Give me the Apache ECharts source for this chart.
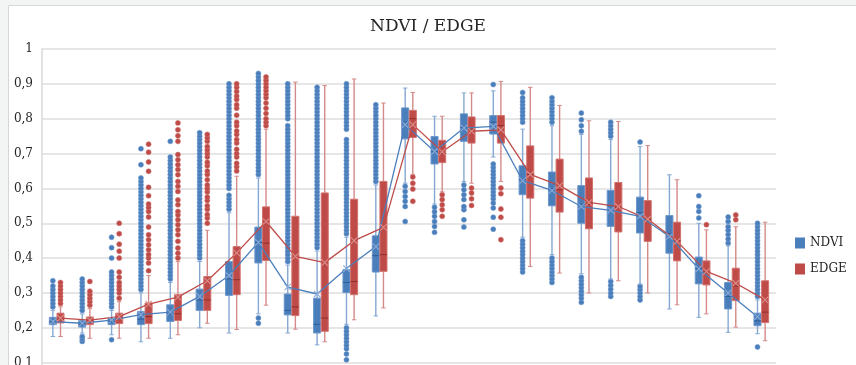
<!DOCTYPE html>
<html>
<head>
<meta charset="utf-8">
<script src="https://cdn.jsdelivr.net/npm/echarts@6/dist/echarts.min.js"></script>
<style>
  html, body { margin: 0; padding: 0; background: #f3f4f4; }
  #chart { width: 856px; height: 365px; }
</style>
</head>
<body>
<div id="chart"></div>
<script>
// Period labels (1..25); the axis labels sit below the visible area
const categories = ['1','2','3','4','5','6','7','8','9','10','11','12','13','14','15','16','17','18','19','20','21','22','23','24','25'];

// NDVI box statistics: [lower whisker, Q1, median, Q3, upper whisker]
const ndviBoxes = [
  [0.175, 0.209, 0.217, 0.230, 0.25],
  [0.185, 0.202, 0.210, 0.221, 0.24],
  [0.18, 0.209, 0.218, 0.228, 0.25],
  [0.16, 0.209, 0.225, 0.247, 0.30],
  [0.17, 0.218, 0.24, 0.266, 0.33],
  [0.20, 0.25, 0.28, 0.311, 0.39],
  [0.185, 0.293, 0.34, 0.39, 0.53],
  [0.24, 0.386, 0.445, 0.489, 0.63],
  [0.185, 0.237, 0.25, 0.297, 0.38],
  [0.151, 0.185, 0.21, 0.285, 0.42],
  [0.21, 0.301, 0.33, 0.367, 0.46],
  [0.234, 0.36, 0.407, 0.464, 0.61],
  [0.615, 0.742, 0.79, 0.831, 0.888],
  [0.555, 0.67, 0.705, 0.749, 0.807],
  [0.62, 0.735, 0.775, 0.814, 0.874],
  [0.69, 0.756, 0.79, 0.809, 0.88],
  [0.46, 0.582, 0.625, 0.665, 0.77],
  [0.41, 0.55, 0.60, 0.647, 0.78],
  [0.355, 0.50, 0.555, 0.608, 0.755],
  [0.34, 0.491, 0.55, 0.594, 0.74],
  [0.325, 0.472, 0.53, 0.575, 0.72],
  [0.254, 0.414, 0.47, 0.522, 0.639],
  [0.23, 0.326, 0.37, 0.403, 0.50],
  [0.187, 0.254, 0.29, 0.33, 0.435],
  [0.183, 0.206, 0.22, 0.242, 0.28]
];

// EDGE box statistics: [lower whisker, Q1, median, Q3, upper whisker]
const edgeBoxes = [
  [0.175, 0.214, 0.225, 0.242, 0.26],
  [0.17, 0.209, 0.22, 0.231, 0.255],
  [0.17, 0.212, 0.228, 0.242, 0.275],
  [0.17, 0.212, 0.232, 0.271, 0.35],
  [0.18, 0.221, 0.24, 0.295, 0.39],
  [0.213, 0.25, 0.28, 0.347, 0.48],
  [0.195, 0.295, 0.338, 0.433, 0.635],
  [0.265, 0.393, 0.443, 0.547, 0.77],
  [0.196, 0.235, 0.26, 0.52, 0.905],
  [0.16, 0.19, 0.228, 0.587, 0.895],
  [0.223, 0.295, 0.333, 0.569, 0.914],
  [0.257, 0.362, 0.41, 0.62, 0.845],
  [0.64, 0.746, 0.80, 0.824, 0.875],
  [0.59, 0.674, 0.70, 0.738, 0.807],
  [0.615, 0.73, 0.77, 0.805, 0.874],
  [0.62, 0.73, 0.78, 0.809, 0.907],
  [0.376, 0.572, 0.64, 0.722, 0.89],
  [0.357, 0.532, 0.596, 0.684, 0.838],
  [0.30, 0.484, 0.555, 0.63, 0.794],
  [0.335, 0.475, 0.545, 0.617, 0.792],
  [0.30, 0.448, 0.51, 0.565, 0.723],
  [0.266, 0.392, 0.45, 0.503, 0.625],
  [0.24, 0.323, 0.36, 0.392, 0.481],
  [0.202, 0.278, 0.32, 0.371, 0.49],
  [0.163, 0.215, 0.245, 0.335, 0.503]
];

// Mean values (the X markers joined by lines)
const ndviMeans = [0.218, 0.213, 0.222, 0.238, 0.245, 0.29, 0.35, 0.445, 0.317, 0.297, 0.37, 0.433,
  0.783, 0.706, 0.773, 0.778, 0.622, 0.594, 0.548, 0.537, 0.52, 0.462, 0.369, 0.30, 0.232];
const edgeMeans = [0.228, 0.222, 0.232, 0.268, 0.288, 0.335, 0.415, 0.505, 0.405, 0.387, 0.45, 0.488,
  0.783, 0.705, 0.764, 0.768, 0.64, 0.608, 0.56, 0.548, 0.512, 0.448, 0.362, 0.328, 0.28];

// Outlying observations per period
const ndviOutliers = [
  [0.26, 0.27, 0.28, 0.29, 0.30, 0.31, 0.32, 0.335],
  [0.161, 0.168, 0.175, 0.25, 0.26, 0.27, 0.28, 0.29, 0.30, 0.31, 0.32, 0.33, 0.34],
  [0.166, 0.26, 0.27, 0.28, 0.29, 0.30, 0.31, 0.32, 0.33, 0.34, 0.35, 0.36, 0.40, 0.43, 0.46],
  [0.31, 0.32, 0.33, 0.34, 0.35, 0.36, 0.37, 0.38, 0.39, 0.40, 0.41, 0.42, 0.43, 0.44, 0.45, 0.46, 0.47,
   0.48, 0.49, 0.50, 0.51, 0.52, 0.53, 0.54, 0.55, 0.56, 0.57, 0.58, 0.59, 0.60, 0.61, 0.62, 0.63, 0.668, 0.714],
  [0.34, 0.35, 0.36, 0.37, 0.38, 0.39, 0.40, 0.41, 0.42, 0.43, 0.44, 0.45, 0.46, 0.47, 0.48, 0.49, 0.50,
   0.51, 0.52, 0.53, 0.54, 0.55, 0.56, 0.57, 0.58, 0.59, 0.60, 0.61, 0.62, 0.63, 0.64, 0.65, 0.66, 0.67,
   0.68, 0.69, 0.735],
  [0.40, 0.41, 0.42, 0.43, 0.44, 0.45, 0.46, 0.47, 0.48, 0.49, 0.50, 0.51, 0.52, 0.53, 0.54, 0.55, 0.56,
   0.57, 0.58, 0.59, 0.60, 0.61, 0.62, 0.63, 0.64, 0.65, 0.66, 0.67, 0.68, 0.69, 0.70, 0.71, 0.72, 0.73,
   0.74, 0.75, 0.76],
  [0.54, 0.55, 0.56, 0.57, 0.58, 0.60, 0.61, 0.62, 0.63, 0.64, 0.65, 0.66, 0.67, 0.68, 0.69, 0.70, 0.71,
   0.72, 0.73, 0.74, 0.75, 0.76, 0.77, 0.78, 0.79, 0.80, 0.81, 0.82, 0.83, 0.84, 0.85, 0.86, 0.87, 0.88,
   0.89, 0.90],
  [0.213, 0.228, 0.64, 0.65, 0.66, 0.67, 0.68, 0.69, 0.70, 0.71, 0.72, 0.73, 0.74, 0.75, 0.76, 0.77, 0.78,
   0.79, 0.80, 0.81, 0.82, 0.83, 0.84, 0.85, 0.86, 0.87, 0.88, 0.89, 0.90, 0.91, 0.92, 0.93],
  [0.39, 0.40, 0.41, 0.42, 0.43, 0.44, 0.45, 0.46, 0.47, 0.48, 0.49, 0.50, 0.51, 0.52, 0.53, 0.54, 0.55,
   0.56, 0.57, 0.58, 0.59, 0.60, 0.61, 0.62, 0.63, 0.64, 0.65, 0.66, 0.67, 0.68, 0.69, 0.70, 0.71, 0.72,
   0.73, 0.74, 0.75, 0.76, 0.77, 0.78, 0.80, 0.81, 0.82, 0.83, 0.84, 0.85, 0.86, 0.87, 0.88, 0.89, 0.90],
  [0.43, 0.44, 0.45, 0.46, 0.47, 0.48, 0.49, 0.50, 0.51, 0.52, 0.53, 0.54, 0.55, 0.56, 0.57, 0.58, 0.59,
   0.60, 0.61, 0.62, 0.63, 0.64, 0.65, 0.66, 0.67, 0.68, 0.69, 0.70, 0.71, 0.72, 0.73, 0.74, 0.75, 0.76,
   0.77, 0.78, 0.79, 0.80, 0.81, 0.82, 0.83, 0.84, 0.85, 0.86, 0.87, 0.88, 0.89],
  [0.108, 0.125, 0.14, 0.15, 0.16, 0.17, 0.18, 0.19, 0.20,
   0.47, 0.48, 0.49, 0.50, 0.51, 0.52, 0.53, 0.54, 0.55, 0.56, 0.57, 0.58, 0.59, 0.60, 0.61, 0.62, 0.63,
   0.64, 0.65, 0.66, 0.67, 0.68, 0.69, 0.70, 0.71, 0.72, 0.73, 0.74, 0.77, 0.78, 0.79, 0.80, 0.81, 0.82,
   0.83, 0.84, 0.85, 0.86, 0.87, 0.88, 0.89, 0.90],
  [0.62, 0.63, 0.64, 0.65, 0.66, 0.67, 0.68, 0.69, 0.70, 0.71, 0.72, 0.73, 0.74, 0.75, 0.76, 0.77, 0.78,
   0.79, 0.80, 0.81, 0.82, 0.83, 0.84],
  [0.505, 0.548, 0.563, 0.577, 0.591, 0.606],
  [0.474, 0.491, 0.505, 0.52, 0.533, 0.546],
  [0.489, 0.51, 0.539, 0.548, 0.568, 0.582, 0.596, 0.61],
  [0.483, 0.517, 0.544, 0.558, 0.57, 0.58, 0.59, 0.60, 0.61, 0.62, 0.63, 0.64, 0.65, 0.66, 0.67, 0.898],
  [0.36, 0.37, 0.38, 0.39, 0.40, 0.41, 0.42, 0.43, 0.44, 0.45, 0.79, 0.80, 0.81, 0.82, 0.83, 0.84, 0.85,
   0.86, 0.875],
  [0.33, 0.34, 0.35, 0.36, 0.37, 0.38, 0.39, 0.40, 0.79, 0.80, 0.81, 0.82, 0.83, 0.84, 0.85, 0.86],
  [0.273, 0.285, 0.295, 0.305, 0.315, 0.325, 0.335, 0.345, 0.764, 0.78, 0.797, 0.816],
  [0.29, 0.30, 0.311, 0.322, 0.333, 0.75, 0.76, 0.77, 0.78, 0.79],
  [0.28, 0.29, 0.30, 0.31, 0.319, 0.733],
  [],
  [0.515, 0.534, 0.548, 0.579],
  [0.443, 0.455, 0.468, 0.48, 0.49, 0.505, 0.518],
  [0.145, 0.29, 0.30, 0.31, 0.32, 0.33, 0.34, 0.35, 0.36, 0.37, 0.38, 0.39, 0.40, 0.41, 0.42, 0.43, 0.44,
   0.45, 0.46, 0.47, 0.48, 0.49, 0.50]
];

const edgeOutliers = [
  [0.27, 0.28, 0.29, 0.30, 0.31, 0.32, 0.33],
  [0.265, 0.275, 0.285, 0.295, 0.305, 0.333],
  [0.285, 0.30, 0.31, 0.32, 0.33, 0.345, 0.36, 0.40, 0.42, 0.44, 0.47, 0.50],
  [0.364, 0.386, 0.400, 0.410, 0.424, 0.438, 0.453, 0.467, 0.489, 0.518, 0.534, 0.545, 0.555, 0.579,
   0.603, 0.649, 0.676, 0.704, 0.727],
  [0.400, 0.414, 0.429, 0.448, 0.467, 0.481, 0.496, 0.510, 0.524, 0.534, 0.553, 0.567, 0.591, 0.606,
   0.620, 0.639, 0.654, 0.668, 0.682, 0.697, 0.735, 0.751, 0.768, 0.788],
  [0.50, 0.515, 0.525, 0.54, 0.55, 0.565, 0.575, 0.59, 0.60, 0.61, 0.625, 0.64, 0.65, 0.665, 0.675,
   0.69, 0.70, 0.71, 0.72, 0.735, 0.745, 0.755],
  [0.65, 0.662, 0.672, 0.69, 0.70, 0.712, 0.73, 0.74, 0.755, 0.765, 0.78, 0.79, 0.81, 0.83, 0.84, 0.855,
   0.865, 0.878, 0.89, 0.90],
  [0.78, 0.79, 0.80, 0.815, 0.83, 0.845, 0.86, 0.87, 0.88, 0.89, 0.90, 0.91, 0.92],
  [], [], [], [],
  [0.563, 0.598, 0.615, 0.633],
  [0.52, 0.539, 0.553, 0.568, 0.582],
  [0.551, 0.57, 0.587, 0.601],
  [0.453, 0.517, 0.541, 0.585, 0.601],
  [], [], [], [], [], [],
  [0.496],
  [0.51, 0.524],
  []
];

const NDVI_COLOR = '#4a7ebb';
const EDGE_COLOR = '#be4b48';
const FONT = 'DejaVu Serif';

// Position of a series inside its category band: -1 left, +1 right
const SIDE_SHIFT = 0.13;
const BOX_FRAC = 0.24;

function boxRenderer(side, fill, stroke, whisker, median) {
  return function (params, api) {
    const i = api.value(0);
    const band = api.size([1, 0])[0];
    const off = side * band * SIDE_SHIFT;
    const w = band * BOX_FRAC;
    const y = v => api.coord([i, v])[1];
    const x = api.coord([i, 0])[0] + off;
    const lo = y(api.value(1)), q1 = y(api.value(2)), md = y(api.value(3));
    const q3 = y(api.value(4)), hi = y(api.value(5));
    const cap = w * 0.32;
    const ls = { stroke: whisker, lineWidth: 1.4 };
    return {
      type: 'group',
      children: [
        { type: 'line', shape: { x1: x, y1: hi, x2: x, y2: q3 }, style: ls },
        { type: 'line', shape: { x1: x, y1: q1, x2: x, y2: lo }, style: ls },
        { type: 'line', shape: { x1: x - cap, y1: hi, x2: x + cap, y2: hi }, style: { stroke: whisker, lineWidth: 1 } },
        { type: 'line', shape: { x1: x - cap, y1: lo, x2: x + cap, y2: lo }, style: { stroke: whisker, lineWidth: 1 } },
        { type: 'rect', shape: { x: x - w / 2, y: q3, width: w, height: q1 - q3 }, style: { fill: fill, stroke: stroke, lineWidth: 1 } },
        { type: 'line', shape: { x1: x - w / 2, y1: md, x2: x + w / 2, y2: md }, style: { stroke: median, lineWidth: 1 } }
      ]
    };
  };
}

function outlierRenderer(side, fill, stroke) {
  return function (params, api) {
    const band = api.size([1, 0])[0];
    const p = api.coord([api.value(0), api.value(1)]);
    return {
      type: 'circle',
      shape: { cx: p[0] + side * band * SIDE_SHIFT, cy: p[1], r: 2.5 },
      style: { fill: fill, stroke: stroke, lineWidth: 0.6 }
    };
  };
}

function meanRenderer(side, lineColor, markColor) {
  return function (params, api) {
    const i = api.value(0);
    const band = api.size([1, 0])[0];
    const off = side * band * SIDE_SHIFT;
    const p = api.coord([i, api.value(1)]);
    const cx = p[0] + off, cy = p[1];
    const s = 3.2;
    const children = [
      { type: 'line', shape: { x1: cx - s, y1: cy - s, x2: cx + s, y2: cy + s }, style: { stroke: markColor, lineWidth: 1.1 }, z2: 2 },
      { type: 'line', shape: { x1: cx - s, y1: cy + s, x2: cx + s, y2: cy - s }, style: { stroke: markColor, lineWidth: 1.1 }, z2: 2 }
    ];
    const next = api.value(2);
    if (!isNaN(next)) {
      const q = api.coord([i + 1, next]);
      children.push({ type: 'line', shape: { x1: cx, y1: cy, x2: q[0] + off, y2: q[1] }, style: { stroke: lineColor, lineWidth: 1.3 }, z2: 1 });
    }
    return { type: 'group', children: children };
  };
}

const boxData = boxes => boxes.map((b, i) => [i].concat(b));
const meanData = means => means.map((m, i) => [i, m, i + 1 < means.length ? means[i + 1] : null]);
const outlierData = lists => {
  const out = [];
  lists.forEach((vals, i) => vals.forEach(v => out.push([i, v])));
  return out;
};

const chart = echarts.init(document.getElementById('chart'), null, { renderer: 'canvas' });

chart.setOption({
  animation: false,
  backgroundColor: '#f3f4f4',
  graphic: {
    z: -10,
    elements: [{
      type: 'rect',
      shape: { x: 8.5, y: 5.5, width: 860, height: 380 },
      style: { fill: '#ffffff', stroke: '#d6d6d6', lineWidth: 1 },
      silent: true
    }]
  },
  title: {
    text: 'NDVI / EDGE',
    left: 'center',
    top: 13,
    textStyle: { fontFamily: FONT, fontSize: 17, fontWeight: 'normal', color: '#262626' }
  },
  legend: {
    orient: 'vertical',
    left: 795,
    top: 237,
    padding: 0,
    itemWidth: 10,
    itemHeight: 11,
    itemGap: 14,
    icon: 'rect',
    data: ['NDVI', 'EDGE'],
    textStyle: { fontFamily: FONT, fontSize: 12, color: '#262626' }
  },
  grid: { left: 42, top: 49, width: 734, height: 348.5, containLabel: false, outerBoundsMode: 'none' },
  xAxis: {
    type: 'category',
    data: categories,
    boundaryGap: true,
    axisLine: { show: false },
    axisTick: { show: false },
    axisLabel: { show: false },
    splitLine: { show: false }
  },
  yAxis: {
    type: 'value',
    min: 0,
    max: 1,
    interval: 0.1,
    axisLine: { show: true, lineStyle: { color: '#d9d9d9', width: 1.5 } },
    axisTick: { show: false },
    splitLine: { lineStyle: { color: '#dedede', width: 1.5 } },
    axisLabel: {
      margin: 9,
      fontFamily: FONT,
      fontSize: 12,
      color: '#262626',
      formatter: v => (v === 1 ? '1' : v === 0 ? '0' : v.toFixed(1).replace('.', ','))
    }
  },
  series: [
    {
      name: 'NDVI', type: 'custom', renderItem: outlierRenderer(-1, NDVI_COLOR, '#6d98cc'),
      itemStyle: { color: NDVI_COLOR }, encode: { x: 0, y: 1 }, data: outlierData(ndviOutliers), z: 2
    },
    {
      name: 'EDGE', type: 'custom', renderItem: outlierRenderer(1, EDGE_COLOR, '#cf706d'),
      itemStyle: { color: EDGE_COLOR }, encode: { x: 0, y: 1 }, data: outlierData(edgeOutliers), z: 2
    },
    {
      name: 'NDVI', type: 'custom', renderItem: boxRenderer(-1, NDVI_COLOR, '#6b97cd', '#85a7d3', '#2f5d97'),
      itemStyle: { color: NDVI_COLOR }, encode: { x: 0, y: [1, 2, 3, 4, 5] }, data: boxData(ndviBoxes), z: 3
    },
    {
      name: 'EDGE', type: 'custom', renderItem: boxRenderer(1, EDGE_COLOR, '#d2726f', '#d48a88', '#8f2f2c'),
      itemStyle: { color: EDGE_COLOR }, encode: { x: 0, y: [1, 2, 3, 4, 5] }, data: boxData(edgeBoxes), z: 3
    },
    {
      name: 'NDVI', type: 'custom', renderItem: meanRenderer(-1, '#4a7ebb', '#8aabd8'),
      itemStyle: { color: NDVI_COLOR }, encode: { x: 0, y: 1 }, data: meanData(ndviMeans), z: 4
    },
    {
      name: 'EDGE', type: 'custom', renderItem: meanRenderer(1, '#be4b48', '#dc8e8b'),
      itemStyle: { color: EDGE_COLOR }, encode: { x: 0, y: 1 }, data: meanData(edgeMeans), z: 4
    }
  ]
});
</script>
</body>
</html>
